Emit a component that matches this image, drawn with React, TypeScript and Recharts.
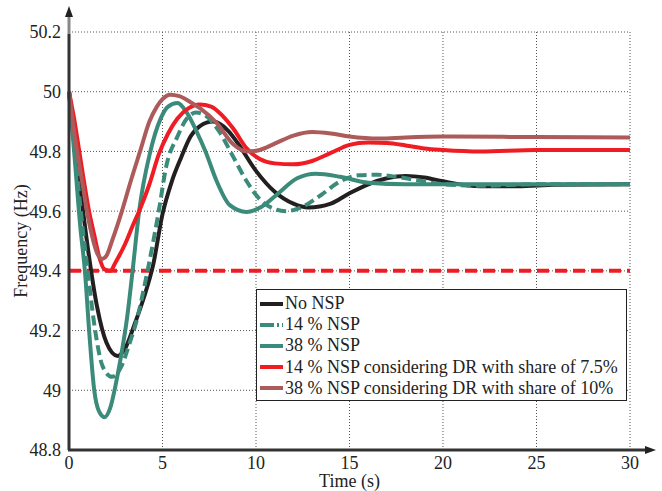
import { CartesianGrid, Line, LineChart, ReferenceLine, XAxis, YAxis } from 'recharts';

type Pt = { t: number; f: number };

const timeTicks = [0, 5, 10, 15, 20, 25, 30];
const freqTicks = [48.8, 49, 49.2, 49.4, 49.6, 49.8, 50, 50.2];
const threshold = 49.4;

const noNsp: Pt[] = [
  { t: 0, f: 50 }, { t: 0.3, f: 49.85 }, { t: 0.6, f: 49.68 }, { t: 1.0, f: 49.48 }, { t: 1.5, f: 49.28 },
  { t: 2.0, f: 49.16 }, { t: 2.6, f: 49.115 }, { t: 3.0, f: 49.14 }, { t: 3.5, f: 49.22 }, { t: 4.0, f: 49.31 },
  { t: 4.5, f: 49.42 }, { t: 5.0, f: 49.59 }, { t: 5.5, f: 49.7 }, { t: 6.0, f: 49.78 }, { t: 6.5, f: 49.85 },
  { t: 7.0, f: 49.885 }, { t: 7.7, f: 49.9 }, { t: 8.5, f: 49.87 }, { t: 9.0, f: 49.83 }, { t: 10, f: 49.735 },
  { t: 11, f: 49.665 }, { t: 12, f: 49.625 }, { t: 12.8, f: 49.612 }, { t: 14, f: 49.625 }, { t: 15, f: 49.66 },
  { t: 16, f: 49.69 }, { t: 17, f: 49.71 }, { t: 18, f: 49.718 }, { t: 19, f: 49.713 }, { t: 20, f: 49.7 },
  { t: 22, f: 49.683 }, { t: 24, f: 49.683 }, { t: 26, f: 49.688 }, { t: 30, f: 49.69 },
];

const nsp14: Pt[] = [
  { t: 0, f: 50 }, { t: 0.3, f: 49.82 }, { t: 0.6, f: 49.62 }, { t: 1.0, f: 49.4 }, { t: 1.4, f: 49.2 },
  { t: 1.8, f: 49.08 }, { t: 2.3, f: 49.045 }, { t: 2.8, f: 49.08 }, { t: 3.2, f: 49.15 }, { t: 3.6, f: 49.23 },
  { t: 4.2, f: 49.4 }, { t: 4.8, f: 49.6 }, { t: 5.2, f: 49.75 }, { t: 5.8, f: 49.85 }, { t: 6.3, f: 49.91 },
  { t: 6.8, f: 49.93 }, { t: 7.3, f: 49.92 }, { t: 8.0, f: 49.87 }, { t: 8.8, f: 49.78 }, { t: 9.5, f: 49.7 },
  { t: 10.2, f: 49.64 }, { t: 11, f: 49.607 }, { t: 11.6, f: 49.6 }, { t: 12.5, f: 49.615 }, { t: 13.5, f: 49.655 },
  { t: 14.5, f: 49.7 }, { t: 15.5, f: 49.72 }, { t: 16.5, f: 49.722 }, { t: 17.5, f: 49.715 }, { t: 18.5, f: 49.705 },
  { t: 20, f: 49.69 }, { t: 22, f: 49.685 }, { t: 25, f: 49.69 }, { t: 30, f: 49.69 },
];

const nsp38: Pt[] = [
  { t: 0, f: 50 }, { t: 0.3, f: 49.78 }, { t: 0.6, f: 49.55 }, { t: 0.85, f: 49.4 }, { t: 1.1, f: 49.18 },
  { t: 1.35, f: 49.0 }, { t: 1.6, f: 48.93 }, { t: 1.9, f: 48.91 }, { t: 2.2, f: 48.94 }, { t: 2.5, f: 49.02 },
  { t: 2.8, f: 49.12 }, { t: 3.1, f: 49.24 }, { t: 3.4, f: 49.4 }, { t: 3.75, f: 49.6 }, { t: 4.35, f: 49.8 },
  { t: 4.9, f: 49.91 }, { t: 5.3, f: 49.95 }, { t: 5.8, f: 49.962 }, { t: 6.3, f: 49.93 }, { t: 6.8, f: 49.87 },
  { t: 7.3, f: 49.8 }, { t: 7.9, f: 49.7 }, { t: 8.6, f: 49.62 }, { t: 9.5, f: 49.597 }, { t: 10.3, f: 49.615 },
  { t: 11.2, f: 49.66 }, { t: 12.2, f: 49.71 }, { t: 13.2, f: 49.725 }, { t: 14.5, f: 49.715 }, { t: 16, f: 49.695 },
  { t: 18, f: 49.69 }, { t: 22, f: 49.69 }, { t: 30, f: 49.69 },
];

const dr75: Pt[] = [
  { t: 0, f: 50 }, { t: 0.3, f: 49.9 }, { t: 0.55, f: 49.8 }, { t: 0.8, f: 49.7 }, { t: 1.07, f: 49.6 },
  { t: 1.35, f: 49.52 }, { t: 1.6, f: 49.45 }, { t: 1.9, f: 49.405 }, { t: 2.2, f: 49.4 }, { t: 2.5, f: 49.43 },
  { t: 3.0, f: 49.49 }, { t: 3.4, f: 49.55 }, { t: 3.75, f: 49.6 }, { t: 4.3, f: 49.69 }, { t: 4.8, f: 49.79 },
  { t: 5.3, f: 49.86 }, { t: 5.8, f: 49.91 }, { t: 6.4, f: 49.945 }, { t: 7.0, f: 49.957 }, { t: 7.6, f: 49.95 },
  { t: 8.2, f: 49.92 }, { t: 8.8, f: 49.875 }, { t: 9.5, f: 49.81 }, { t: 10.2, f: 49.775 }, { t: 11, f: 49.76 },
  { t: 12, f: 49.757 }, { t: 13, f: 49.768 }, { t: 14, f: 49.795 }, { t: 15, f: 49.822 }, { t: 16, f: 49.83 },
  { t: 17, f: 49.828 }, { t: 18, f: 49.82 }, { t: 19, f: 49.81 }, { t: 20, f: 49.805 }, { t: 22, f: 49.8 },
  { t: 25, f: 49.805 }, { t: 30, f: 49.805 },
];

const dr10: Pt[] = [
  { t: 0, f: 50 }, { t: 0.2, f: 49.9 }, { t: 0.43, f: 49.8 }, { t: 0.7, f: 49.7 }, { t: 0.96, f: 49.6 },
  { t: 1.3, f: 49.5 }, { t: 1.5, f: 49.46 }, { t: 1.77, f: 49.44 }, { t: 2.0, f: 49.45 }, { t: 2.3, f: 49.5 },
  { t: 2.83, f: 49.6 }, { t: 3.3, f: 49.7 }, { t: 3.8, f: 49.8 }, { t: 4.3, f: 49.9 }, { t: 4.7, f: 49.95 },
  { t: 5.0, f: 49.975 }, { t: 5.4, f: 49.99 }, { t: 5.9, f: 49.985 }, { t: 6.5, f: 49.965 }, { t: 7.0, f: 49.945 },
  { t: 7.9, f: 49.895 }, { t: 8.8, f: 49.823 }, { t: 9.5, f: 49.8 }, { t: 10.2, f: 49.805 }, { t: 11, f: 49.826 },
  { t: 12, f: 49.853 }, { t: 13, f: 49.865 }, { t: 14, f: 49.86 }, { t: 15, f: 49.85 }, { t: 16.6, f: 49.843 },
  { t: 18, f: 49.847 }, { t: 20, f: 49.85 }, { t: 25, f: 49.848 }, { t: 30, f: 49.847 },
];

const series = [
  { name: 'No NSP', data: noNsp, color: '#231f20', dash: undefined as string | undefined },
  { name: '14 % NSP', data: nsp14, color: '#3b8b7a', dash: '10 5' },
  { name: '38 % NSP', data: nsp38, color: '#3b8b7a', dash: undefined },
  { name: '14 % NSP considering DR with share of 7.5%', data: dr75, color: '#f01c24', dash: undefined },
  { name: '38 % NSP considering DR with share of 10%', data: dr10, color: '#ac5a5a', dash: undefined },
];

const FONT = '"Liberation Serif", "Times New Roman", serif';
const W = 662;
const H = 491;

function fmtFreq(v: number) {
  return String(parseFloat(v.toFixed(1)));
}

function LegendBox() {
  return (
    <div
      style={{
        position: 'absolute',
        left: 256,
        top: 289,
        width: 371,
        height: 112,
        border: '1.5px solid #222',
        background: '#fff',
        fontFamily: FONT,
        fontSize: 18,
        lineHeight: '21px',
        color: '#222',
        paddingTop: 3,
        boxSizing: 'border-box',
      }}
    >
      {series.map((s) => (
        <div key={s.name} style={{ display: 'flex', alignItems: 'center', height: 21.2, whiteSpace: 'nowrap' }}>
          <svg width={28} height={10} style={{ flex: 'none' }}>
            <line x1={3} y1={5} x2={26} y2={5} stroke={s.color} strokeWidth={4} strokeDasharray={s.dash ? '14 3 2 3' : undefined} />
          </svg>
          <span>{s.name}</span>
        </div>
      ))}
    </div>
  );
}

export default function App() {
  const x0 = 69;
  const yBottom = 450;
  return (
    <div style={{ position: 'absolute', left: 0, top: 0, width: W, height: H, background: '#fff' }}>
      <LineChart width={W} height={H} margin={{ top: 32, right: 32, bottom: 11, left: 9 }}>
        <CartesianGrid stroke="#555" strokeDasharray="1 2" />
        <XAxis
          type="number"
          dataKey="t"
          domain={[0, 30]}
          ticks={timeTicks}
          axisLine={false}
          tickLine={false}
          height={30}
          tick={{ fontFamily: FONT, fontSize: 18, fill: '#222' }}
          tickMargin={0}
          label={{ value: 'Time (s)', position: 'insideBottom', offset: -7, fill: '#222', style: { fontFamily: FONT, fontSize: 18, fill: '#222' } }}
        />
        <YAxis
          type="number"
          domain={[48.8, 50.2]}
          ticks={freqTicks}
          tickFormatter={fmtFreq}
          axisLine={false}
          tickLine={false}
          width={60}
          tickMargin={2}
          tick={{ fontFamily: FONT, fontSize: 18, fill: '#222' }}
          label={{ value: 'Frequency (Hz)', angle: -90, position: 'insideLeft', offset: 12, fill: '#222', style: { textAnchor: 'middle', fontFamily: FONT, fontSize: 18, fill: '#222' } }}
        />
        <ReferenceLine y={threshold} stroke="#f01c24" strokeWidth={4} strokeDasharray="12 6" />
        {series.map((s) => (
          <Line
            key={s.name}
            data={s.data}
            dataKey="f"
            name={s.name}
            type="monotone"
            stroke={s.color}
            strokeWidth={4}
            strokeDasharray={s.dash}
            dot={false}
            activeDot={false}
            isAnimationActive={false}
          />
        ))}
      </LineChart>
      <LegendBox />
      <svg width={W} height={H} style={{ position: 'absolute', left: 0, top: 0, pointerEvents: 'none' }}>
        <line x1={x0} y1={yBottom} x2={x0} y2={34} stroke="#333" strokeWidth={3} />
        <line x1={x0} y1={34} x2={x0} y2={14} stroke="#888" strokeWidth={3} />
        <polygon points={`${x0},6 ${x0 - 4},17 ${x0 + 4},17`} fill="#222" />
        <line x1={x0 - 1} y1={yBottom} x2={648} y2={yBottom} stroke="#333" strokeWidth={3} />
        <polygon points={`656,${yBottom} 645,${yBottom - 4} 645,${yBottom + 4}`} fill="#222" />
      </svg>
    </div>
  );
}
